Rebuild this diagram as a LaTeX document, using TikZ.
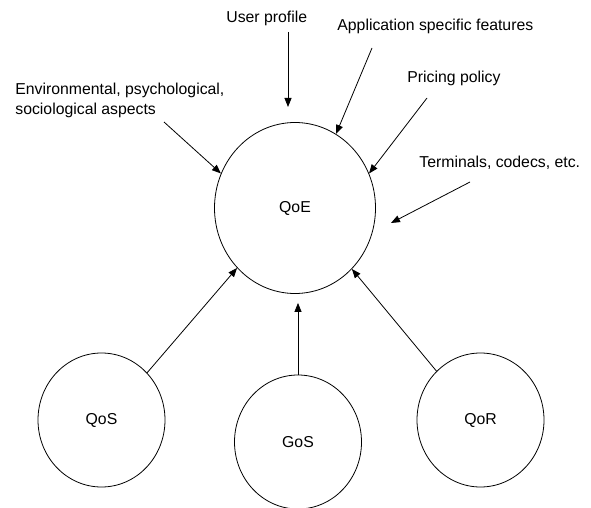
\documentclass[tikz,border=0pt]{standalone}
\usepackage{fontspec}
\setmainfont{Liberation Sans}
\usetikzlibrary{arrows,arrows.meta,shapes.geometric}
\tikzstyle{bubble} = [ellipse, draw, inner sep=0pt, minimum width=127bp, minimum height=134bp]
\tikzstyle{factor} = [inner sep=0pt, anchor=base west]
\tikzset{edge/.style = {
    line width=0.8bp,
    -{Triangle[length=9bp,width=7bp]},
  }
}

\begin{document}
\begin{tikzpicture}[x=1bp, y=-1bp, line width=0.8bp, font=\fontsize{15.8bp}{19.5bp}\selectfont]
            \useasboundingbox (0,0) rectangle (591,508);
            % vertices
            \node[bubble, minimum width=161bp, minimum height=171bp] (qoe) at (295 , 208) {QoE};
            \node[bubble] (qos) at (101.5 , 420) {QoS};
            \node[bubble] (gos) at (298 , 442) {GoS};
            \node[bubble] (qor) at (480.5 , 420) {QoR};

            % factors
            \node[factor] (user) at (226 , 23) {User profile};
            \node[factor] (appl) at (337 , 30.5) {Application specific features};
            \node[factor] (price) at (407 , 83) {Pricing policy};
            \node[factor, anchor=north west, align=left] (env) at (15 , 83) {Environmental, psychological,\\sociological aspects};
            \node[factor] (term) at (419 , 168) {Terminals, codecs, etc.};

            % free ends
            \coordinate (userS) at (288 , 32);
            \coordinate (userE) at (288 , 107);
            \coordinate (envS) at (164 , 122);
            \coordinate (applS) at (372 , 48);
            \coordinate (priceS) at (427 , 98);
            \coordinate (termS) at (470 , 182);
            \coordinate (termE) at (391 , 223);

            %edges
            \draw[edge] (qos.46.5) -- (qoe.226.4);
            \draw[edge, shorten >=9bp] (gos.north) -- (gos.north |- qoe.south);
            \draw[edge] (qor.132.8) -- (qoe.313.6);

            %factor lines
            \draw[edge] (userS) -- (userE);
            \draw[edge] (envS) -- (qoe.155.6);
            \draw[edge] (applS) -- (qoe.61);
            \draw[edge] (priceS) -- (qoe.25.6);
            \draw[edge] (termS) -- (termE);

\end{tikzpicture}
\end{document}
